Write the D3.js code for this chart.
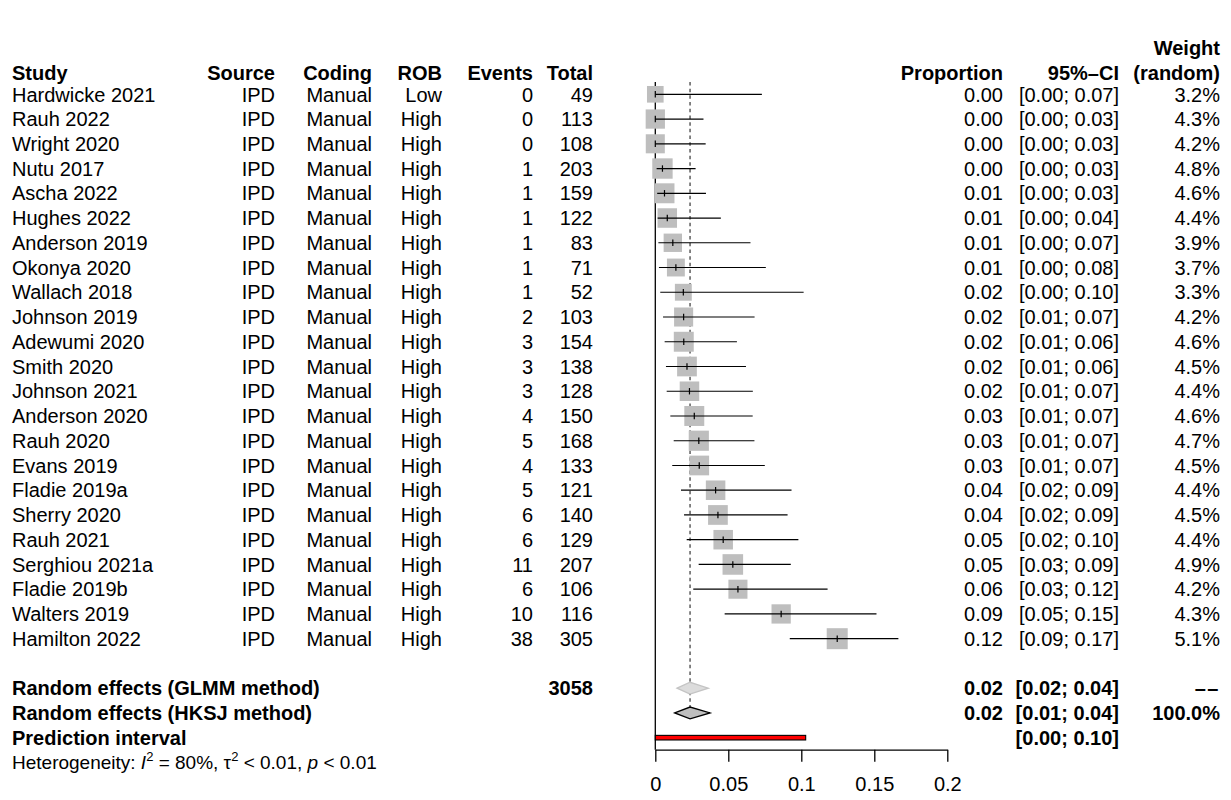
<!DOCTYPE html>
<html><head><meta charset="utf-8">
<script src="https://cdn.jsdelivr.net/npm/d3@7"></script>
<style>
body{margin:0;background:#fff;}
svg{display:block;font-family:"Liberation Sans",Arial,Helvetica,sans-serif;}
</style></head><body>
<svg id="chart" width="1231" height="800"></svg>
<script>
// ---------- data ----------
const studies = ["Hardwicke 2021","Rauh 2022","Wright 2020","Nutu 2017","Ascha 2022","Hughes 2022","Anderson 2019","Okonya 2020","Wallach 2018","Johnson 2019","Adewumi 2020","Smith 2020","Johnson 2021","Anderson 2020","Rauh 2020","Evans 2019","Fladie 2019a","Sherry 2020","Rauh 2021","Serghiou 2021a","Fladie 2019b","Walters 2019","Hamilton 2022"];
const sources = ["IPD","IPD","IPD","IPD","IPD","IPD","IPD","IPD","IPD","IPD","IPD","IPD","IPD","IPD","IPD","IPD","IPD","IPD","IPD","IPD","IPD","IPD","IPD"];
const codings = ["Manual","Manual","Manual","Manual","Manual","Manual","Manual","Manual","Manual","Manual","Manual","Manual","Manual","Manual","Manual","Manual","Manual","Manual","Manual","Manual","Manual","Manual","Manual"];
const robs = ["Low","High","High","High","High","High","High","High","High","High","High","High","High","High","High","High","High","High","High","High","High","High","High"];
const events = [0,0,0,1,1,1,1,1,1,2,3,3,3,4,5,4,5,6,6,11,6,10,38];
const totals = [49,113,108,203,159,122,83,71,52,103,154,138,128,150,168,133,121,140,129,207,106,116,305];
const proportions = [0,0,0,0.0049,0.0063,0.0082,0.0120,0.0141,0.0192,0.0194,0.0195,0.0217,0.0234,0.0267,0.0298,0.0301,0.0413,0.0429,0.0465,0.0531,0.0566,0.0862,0.1246];
const ciLower = [0,0,0,0.0009,0.0013,0.0016,0.0021,0.0025,0.0034,0.0053,0.0064,0.0073,0.0078,0.0103,0.0126,0.0116,0.0176,0.0197,0.0215,0.0297,0.0260,0.0475,0.0921];
const ciUpper = [0.0730,0.0330,0.0345,0.0276,0.0347,0.0449,0.0652,0.0757,0.1016,0.0680,0.0559,0.0621,0.0668,0.0667,0.0679,0.0750,0.0933,0.0906,0.0980,0.0928,0.1180,0.1515,0.1665];
const weights = [3.2,4.3,4.2,4.8,4.6,4.4,3.9,3.7,3.3,4.2,4.6,4.5,4.4,4.6,4.7,4.5,4.4,4.5,4.4,4.9,4.2,4.3,5.1];
const propLabels = ["0.00","0.00","0.00","0.00","0.01","0.01","0.01","0.01","0.02","0.02","0.02","0.02","0.02","0.03","0.03","0.03","0.04","0.04","0.05","0.05","0.06","0.09","0.12"];
const ciLabels = ["[0.00; 0.07]","[0.00; 0.03]","[0.00; 0.03]","[0.00; 0.03]","[0.00; 0.03]","[0.00; 0.04]","[0.00; 0.07]","[0.00; 0.08]","[0.00; 0.10]","[0.01; 0.07]","[0.01; 0.06]","[0.01; 0.06]","[0.01; 0.07]","[0.01; 0.07]","[0.01; 0.07]","[0.01; 0.07]","[0.02; 0.09]","[0.02; 0.09]","[0.02; 0.10]","[0.03; 0.09]","[0.03; 0.12]","[0.05; 0.15]","[0.09; 0.17]"];
const weightLabels = ["3.2%","4.3%","4.2%","4.8%","4.6%","4.4%","3.9%","3.7%","3.3%","4.2%","4.6%","4.5%","4.4%","4.6%","4.7%","4.5%","4.4%","4.5%","4.4%","4.9%","4.2%","4.3%","5.1%"];

const summaryNames = ["Random effects (GLMM method)","Random effects (HKSJ method)"];
const summaryEst = [0.0238,0.0238];
const summaryLower = [0.0149,0.0133];
const summaryUpper = [0.0363,0.0375];
const summaryTotal = ["3058",""];
const summaryPropLabels = ["0.02","0.02"];
const summaryCiLabels = ["[0.02; 0.04]","[0.01; 0.04]"];
const summaryWeightLabels = ["\u2013\u2013","100.0%"];
const predictionInterval = [0,0.103];
const predictionLabel = "[0.00; 0.10]";

const axisTicks = [0,0.05,0.1,0.15,0.2];
const axisTickLabels = ["0","0.05","0.1","0.15","0.2"];

// ---------- layout ----------
const svg = d3.select("#chart");
const x = d3.scaleLinear().domain([0,0.2]).range([655.3,947.3]);
const rowY = d3.scaleLinear().domain([0,1]).range([94.3,94.3+24.745]);
const boxSize = d3.scaleSqrt().domain([0,5.1]).range([0,21]);
const FS = 20;
const X_PROP = 1003, X_CI = 1119, X_W = 1220;

const cols = [
  {h:"Study", x:12, anchor:"start", vals:studies},
  {h:"Source", x:275, anchor:"end", vals:sources},
  {h:"Coding", x:372, anchor:"end", vals:codings},
  {h:"ROB", x:442, anchor:"end", vals:robs},
  {h:"Events", x:533, anchor:"end", vals:events},
  {h:"Total", x:593, anchor:"end", vals:totals},
  {h:"Proportion", x:X_PROP, anchor:"end", vals:propLabels},
  {h:"95%\u2013CI", x:X_CI, anchor:"end", vals:ciLabels},
  {h:"(random)", x:X_W, anchor:"end", vals:weightLabels}
];

function txt(xp, yp, s, anchor, bold, size){
  return svg.append("text").attr("x",xp).attr("y",yp).attr("dy","0.36em")
    .attr("text-anchor",anchor).attr("font-size",size||FS)
    .attr("font-weight",bold?"bold":"normal").attr("fill","#000").text(s);
}

// headers
const headerY = rowY(-0.86);
cols.forEach(c=>txt(c.x, headerY, c.h, c.anchor, true));
txt(X_W, headerY-24.745, "Weight", "end", true);

// rows text
cols.forEach(c=>{
  c.vals.forEach((v,i)=>txt(c.x, rowY(i), v, c.anchor, false));
});

// summary text
const sumRow0 = 24;
summaryNames.forEach((n,k)=>{
  const y = rowY(sumRow0+k);
  txt(12, y, n, "start", true);
  if(summaryTotal[k]) txt(593, y, summaryTotal[k], "end", true);
  txt(X_PROP, y, summaryPropLabels[k], "end", true);
  txt(X_CI, y, summaryCiLabels[k], "end", true);
  const t = txt(X_W, y, summaryWeightLabels[k], "end", true);
  if(k===0) t.attr("letter-spacing","1.5");
});
txt(12, rowY(sumRow0+2), "Prediction interval", "start", true);
txt(X_CI, rowY(sumRow0+2), predictionLabel, "end", true);

// heterogeneity
const het = svg.append("text").attr("x",12).attr("y",rowY(sumRow0+3)).attr("dy","0.36em")
  .attr("font-size",19).attr("fill","#000");
het.append("tspan").text("Heterogeneity: ");
het.append("tspan").attr("font-style","italic").text("I");
het.append("tspan").attr("font-size",13).attr("dy","-0.62em").text("2");
het.append("tspan").attr("dy","0.42em").text(" = 80%, \u03c4");
het.append("tspan").attr("font-size",13).attr("dy","-0.62em").text("2");
het.append("tspan").attr("dy","0.42em").text(" < 0.01, ");
het.append("tspan").attr("font-style","italic").text("p");
het.append("tspan").text(" < 0.01");

// ---------- plot ----------
const topY = rowY(-0.5);
const axisY = 749.7;
const g = svg.append("g");

// zero line
g.append("line").attr("x1",x(0)).attr("x2",x(0)).attr("y1",topY).attr("y2",axisY)
  .attr("stroke","#000").attr("stroke-width",1.3);
// random-effects reference line
g.append("line").attr("x1",x(summaryEst[0])).attr("x2",x(summaryEst[0]))
  .attr("y1",topY).attr("y2",rowY(sumRow0+1)-6)
  .attr("stroke","#444").attr("stroke-width",1.3).attr("stroke-dasharray","3.5,3.2");

// boxes
g.selectAll("rect.box").data(d3.range(studies.length)).join("rect").attr("class","box")
  .attr("x",i=>x(proportions[i])-boxSize(weights[i])/2)
  .attr("y",i=>rowY(i)-boxSize(weights[i])/2)
  .attr("width",i=>boxSize(weights[i])).attr("height",i=>boxSize(weights[i]))
  .attr("fill","#bebebe");
// CI lines
g.selectAll("line.ci").data(d3.range(studies.length)).join("line").attr("class","ci")
  .attr("x1",i=>x(ciLower[i])).attr("x2",i=>x(ciUpper[i]))
  .attr("y1",i=>rowY(i)).attr("y2",i=>rowY(i))
  .attr("stroke","#000").attr("stroke-width",1.2);
// estimate ticks
g.selectAll("line.est").data(d3.range(studies.length)).join("line").attr("class","est")
  .attr("x1",i=>x(proportions[i])).attr("x2",i=>x(proportions[i]))
  .attr("y1",i=>rowY(i)-3.2).attr("y2",i=>rowY(i)+3.2)
  .attr("stroke","#000").attr("stroke-width",1.2);

// diamonds
const diamondFill = ["#dcdcdc","#bebebe"];
const diamondStroke = ["#c4c4c4","#000"];
summaryEst.forEach((e,k)=>{
  const y = rowY(sumRow0+k);
  const pts = [[x(summaryLower[k]),y],[x(e),y-5.9],[x(summaryUpper[k]),y],[x(e),y+5.9]];
  g.append("path").attr("d","M"+pts.map(p=>p.join(",")).join("L")+"Z")
    .attr("fill",diamondFill[k]).attr("stroke",diamondStroke[k]).attr("stroke-width",1.3);
});

// prediction interval
const py = rowY(sumRow0+2);
g.append("rect").attr("x",x(predictionInterval[0])).attr("y",py-2.3)
  .attr("width",x(predictionInterval[1])-x(predictionInterval[0])).attr("height",4.6)
  .attr("fill","#ff0000").attr("stroke","#000").attr("stroke-width",1.1);

// axis
const axis = d3.axisBottom(x).tickValues(axisTicks)
  .tickFormat((d,i)=>axisTickLabels[i]).tickSize(12).tickPadding(15).tickSizeOuter(0);
const ax = svg.append("g").attr("transform",`translate(0,${axisY})`).call(axis);
ax.select(".domain").attr("stroke","#000").attr("stroke-width",1.3);
ax.selectAll(".tick line").attr("stroke","#000").attr("stroke-width",1.3);
ax.selectAll(".tick text").attr("font-size",FS).attr("fill","#000")
  .attr("font-family","'Liberation Sans',Arial,Helvetica,sans-serif");
</script>
</body></html>
